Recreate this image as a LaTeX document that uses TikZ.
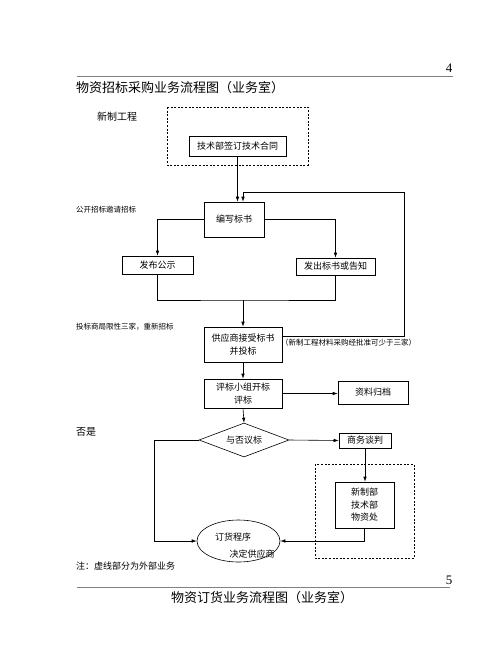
\documentclass[tikz,border=0pt]{standalone}
\usepackage{fontspec}
\setmainfont{Noto Sans CJK SC}
\newfontfamily\numfont{Liberation Serif}
\usetikzlibrary{arrows.meta,shapes.geometric}
\tikzset{
    box/.style={draw, line width=0.6pt, inner sep=1pt, align=center,
        font=\fontsize{9}{12.5}\selectfont},
    arr/.style={line width=0.6pt, -{Latex[length=5pt,width=3.5pt]}},
    line/.style={line width=0.6pt},
    waibu/.style={line width=0.6pt, dash pattern=on 2pt off 1.6pt},
    note/.style={anchor=west, inner sep=0pt, font=\fontsize{7.5}{9}\selectfont},
}

\begin{document}
\begin{tikzpicture}[x=1pt,y=-1pt]
        \useasboundingbox (0,0) rectangle (500,667);
        \fill[white] (0,0) rectangle (500,667);

        % header
        \draw[gray, line width=0.9pt] (77,76) -- (453,76);
        \node[font=\numfont\fontsize{13}{13}\selectfont] (seite4) at (449,68) {4};
        \node[anchor=west, inner sep=0pt, font=\fontsize{13}{13}\selectfont] (titel1) at (76,88) {物资招标采购业务流程图（业务室）};
        \node[anchor=west, inner sep=0pt, font=\fontsize{10}{10}\selectfont] (xinzhigc) at (97,117) {新制工程};

        % dashed outer parts
        \draw[waibu] (167,107) rectangle (308,165);
        \draw[waibu] (315,464) rectangle (414,558);

        \node[box, minimum width=97pt, minimum height=20pt] (hetong) at (237.5,146) {技术部签订技术合同};
        \node[box, minimum width=60pt, minimum height=35pt] (bianxie) at (234,219.5) {编写标书};
        \node[box, minimum width=71pt, minimum height=18pt] (fabu) at (157.5,265) {发布公示};
        \node[box, minimum width=79pt, minimum height=17pt] (fachu) at (335.5,266.5) {发出标书或告知};
        \node[box, minimum width=78pt, minimum height=35pt] (gongying) at (243,344.5) {供应商接受标书\\并投标};
        \node[box, minimum width=78pt, minimum height=29pt] (pingbiao) at (243,393.5) {评标小组开标\\评标};
        \node[box, minimum width=70pt, minimum height=23pt] (ziliao) at (373,392.5) {资料归档};
        \node[box, diamond, aspect=2.6, inner sep=0pt, minimum width=90pt, minimum height=34pt] (yufou) at (244,440) {与否议标};
        \node[box, minimum width=52pt, minimum height=15pt] (shangwu) at (365,440.5) {商务谈判};
        \node[box, minimum width=59pt, minimum height=46pt] (xinzhi) at (364.5,505) {新制部\\技术部\\物资处};
        \node[box, ellipse, minimum width=83pt, minimum height=42pt] (dinghuo) at (238.5,541) {};
        \node[font=\fontsize{9}{9}\selectfont, inner sep=0pt] (dinghuo1) at (233,537) {订货程序};
        \node[font=\fontsize{9}{9}\selectfont, inner sep=0pt] (dinghuo2) at (252,554) {决定供应商};

        % side notes
        \node[note] (gongkai) at (76,210) {公开招标邀请招标};
        \node[note] (toubiao) at (76,327) {投标商局限性三家，重新招标};
        \node[note] (shaoyu) at (281,343) {（新制工程材料采购经批准可少于三家）};
        \node[note, font=\fontsize{10}{10}\selectfont] (foushi) at (76,432) {否是};
        \node[note, font=\fontsize{9}{9}\selectfont] (zhu) at (76,566) {注：虚线部分为外部业务};

        \coordinate (hui) at (243,300);
        \coordinate (fk) at (404,192);

        \draw[arr] (hetong.south) -- (hetong.south |- bianxie.north);
        \draw[arr] (bianxie.west) -| (fabu.north);
        \draw[arr] (bianxie.east) -| (fachu.north);
        \draw[line] (fabu.south) |- (hui) -| (fachu.south);
        \draw[arr] (hui) -- (gongying.north);
        \draw[arr] ([yshift=8pt]gongying.east) -| (fk) -| ([xshift=9pt]bianxie.north);
        \draw[arr] (gongying.south) -- (pingbiao.north);
        \draw[arr] (pingbiao.east) -- (pingbiao.east -| ziliao.west);
        \draw[arr] (pingbiao.south) -- (yufou.north);
        \draw[arr] (yufou.east) -- (shangwu.west);
        \draw[arr] (shangwu.south) -- (shangwu.south |- xinzhi.north);
        \draw[arr] (xinzhi.south) |- (dinghuo.east);
        \draw[arr] (yufou.west) -- ++(-44,0) |- (dinghuo.west);

        % footer
        \draw[gray, line width=0.9pt] (77,587) -- (450,587);
        \node[font=\numfont\fontsize{13}{13}\selectfont] (seite5) at (449,580) {5};
        \node[font=\fontsize{13}{13}\selectfont] (titel2) at (262,598) {物资订货业务流程图（业务室）};
\end{tikzpicture}
\end{document}
